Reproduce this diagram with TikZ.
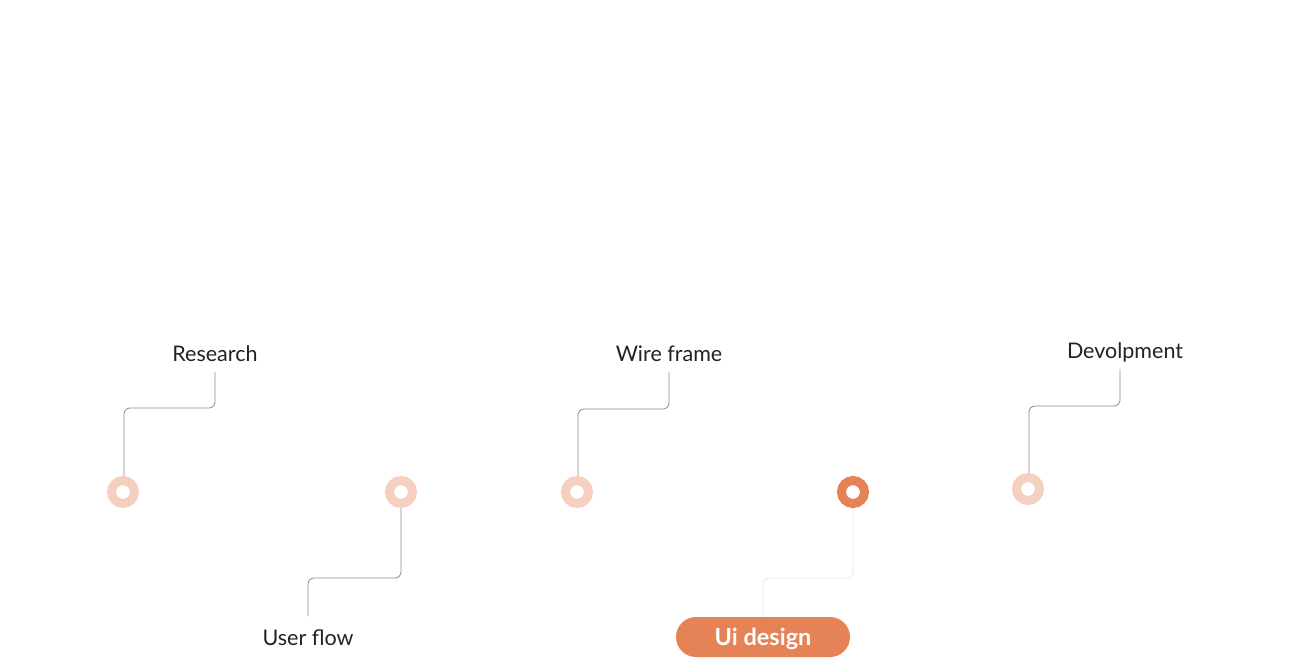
\documentclass[tikz,border=0pt]{standalone}
\usepackage{fontspec}
\setmainfont{Lato}
\definecolor{ringlight}{HTML}{F5CFBF}
\definecolor{ringdark}{HTML}{E58256}
\definecolor{linegray}{HTML}{8A8A8A}
\definecolor{linefaint}{HTML}{EDEDED}
\definecolor{textdark}{HTML}{222222}
\begin{document}
\begin{tikzpicture}[x=1pt,y=-1pt,
  ring/.style={circle,minimum size=23pt,inner sep=0pt,line width=9pt,draw=ringlight,fill=white},
  ringactive/.style={ring,draw=ringdark},
  lbl/.style={inner sep=0pt,anchor=base,text=textdark,font=\fontsize{21.5}{25}\selectfont},
  pill/.style={rounded corners=20pt,fill=ringdark,text=white,minimum width=174pt,minimum height=40pt,inner sep=0pt,text height=16pt,text depth=0pt,font=\fontsize{23.5}{26}\selectfont\bfseries},
  conn/.style={draw=linegray,line width=0.8pt,rounded corners=6pt},
  connfaint/.style={draw=linefaint,line width=1pt,rounded corners=6pt}]
\useasboundingbox (0,0) rectangle (1307,657);
% labels
\node[lbl] (l1) at (215,361) {Research};
\node[lbl] (l2) at (308,645) {User flow};
\node[lbl] (l3) at (669,361) {Wire frame};
\node[pill] (l4) at (763,637) {Ui design};
\node[lbl] (l5) at (1125,358) {Devolpment};
% connectors
\path[conn] (124,476) coordinate (s1) -- (s1 |- 0,408) -| ([yshift=-11pt]l1.base);
\path[conn] (401,508) coordinate (s2) -- (s2 |- 0,578) -| ([yshift=29pt]l2.base);
\path[conn] (578,476) coordinate (s3) -- (s3 |- 0,409) -| ([yshift=-11pt]l3.base);
\path[connfaint] (853,508) coordinate (s4) -- (s4 |- 0,578) -| (l4.north);
\path[conn] (1029,473) coordinate (s5) -- (s5 |- 0,406) -| (1120,369) coordinate (e5);
% rings
\node[ring] (c1) at (123,492) {};
\node[ring] (c2) at (401,492) {};
\node[ring] (c3) at (577,492) {};
\node[ringactive] (c4) at (853,492) {};
\node[ring] (c5) at (1028,489) {};
\end{tikzpicture}
\end{document}
